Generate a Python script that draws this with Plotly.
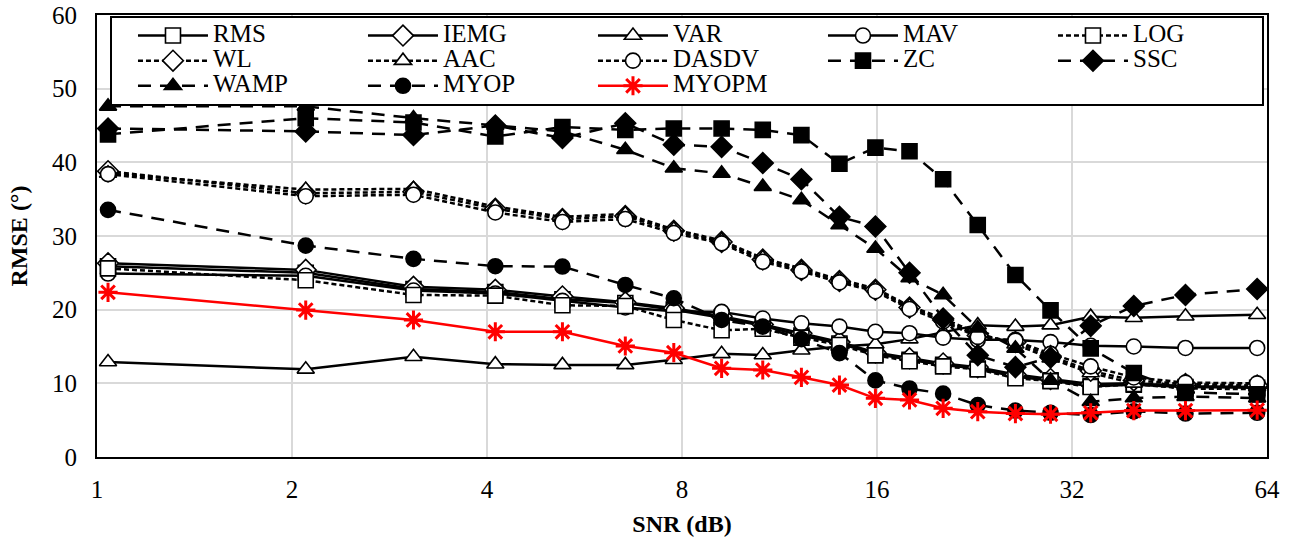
import plotly.graph_objects as go

snr = [1.04, 2.1, 3.08, 4.12, 5.23, 6.54, 7.77, 9.21, 10.66, 12.23, 14.0,
       15.91, 17.96, 20.24, 22.89, 26.17, 29.65, 34.2, 39.86, 47.9, 61.8]

rms   = [25.9, 25.0, 22.8, 22.4, 21.4, 20.9, 20.0, 18.9, 17.8, 16.5, 15.4,
         14.0, 13.2, 12.5, 12.0, 10.9, 10.4, 9.6, 9.8, 9.5, 9.4]
iemg  = [26.3, 25.4, 23.1, 22.7, 21.8, 21.0, 20.2, 19.1, 18.0, 16.8, 15.6,
         14.2, 13.4, 12.7, 12.2, 11.2, 10.6, 9.9, 10.0, 9.6, 9.5]
var   = [12.9, 11.9, 13.6, 12.6, 12.5, 12.5, 13.2, 14.0, 13.85, 14.5, 15.0,
         15.3, 16.0, 16.9, 17.9, 17.7, 17.9, 19.05, 18.9, 19.1, 19.3]
mav   = [24.9, 24.6, 22.6, 22.2, 21.2, 20.3, 19.8, 19.7, 18.8, 18.15, 17.7,
         17.0, 16.8, 16.2, 15.9, 15.9, 15.6, 15.1, 15.0, 14.8, 14.8]
log_  = [25.6, 24.0, 22.0, 21.9, 20.6, 20.5, 18.6, 17.2, 17.4, 16.2, 15.2,
         13.8, 13.0, 12.3, 11.9, 10.7, 10.3, 9.5, 9.9, 9.3, 9.2]
wl    = [38.8, 35.8, 36.0, 33.7, 32.3, 32.7, 30.7, 29.2, 26.8, 25.4, 23.9,
         22.7, 20.3, 18.6, 16.5, 15.6, 13.7, 11.7, 10.4, 9.9, 9.7]
aac   = [38.5, 36.3, 36.4, 34.0, 32.6, 33.0, 30.9, 29.4, 27.0, 25.6, 24.1,
         22.9, 20.5, 18.8, 16.8, 15.3, 13.4, 11.4, 10.0, 9.6, 9.5]
dasdv = [38.4, 35.4, 35.6, 33.2, 31.9, 32.3, 30.4, 29.0, 26.5, 25.2, 23.7,
         22.5, 20.1, 18.4, 16.3, 15.8, 14.0, 12.3, 10.8, 10.1, 10.0]
zc    = [43.8, 46.0, 45.4, 43.5, 44.8, 44.4, 44.6, 44.6, 44.4, 43.7, 39.8,
         42.0, 41.5, 37.7, 31.5, 24.7, 19.9, 14.75, 11.4, 8.8, 8.5]
ssc   = [44.6, 44.2, 43.7, 45.0, 43.3, 45.3, 42.4, 42.1, 39.9, 37.7, 32.6,
         31.3, 25.0, 18.8, 13.8, 12.2, 13.5, 17.8, 20.5, 22.0, 22.8]
wamp  = [47.6, 47.6, 46.0, 45.0, 44.2, 41.7, 39.2, 38.5, 36.7, 34.9, 31.5,
         28.3, 24.3, 22.0, 17.5, 14.75, 10.4, 7.5, 8.0, 8.2, 8.0]
myop  = [33.55, 28.7, 26.9, 25.9, 25.85, 23.35, 21.55, 18.6, 17.7, 16.0, 14.1,
         10.4, 9.3, 8.6, 7.05, 6.3, 6.0, 5.7, 6.2, 5.9, 6.0]
myopm = [22.35, 19.95, 18.6, 17.0, 17.0, 15.07, 14.16, 12.04, 11.81, 10.82, 9.77,
         7.96, 7.74, 6.61, 6.15, 5.9, 5.8, 6.0, 6.3, 6.3, 6.35]

x_ticks = [1, 2, 4, 8, 16, 32, 64]

FONT = "Liberation Serif"
SHORT = "5px,3px"
LONG = "13px,9px"
LEG_TXT = '<span style="font-size:25px">{}</span>'

series = [
    ("RMS", rms, "solid", "square", "white"),
    ("IEMG", iemg, "solid", "diamond", "white"),
    ("VAR", var, "solid", "triangle-up", "white"),
    ("MAV", mav, "solid", "circle", "white"),
    ("LOG", log_, SHORT, "square", "white"),
    ("WL", wl, SHORT, "diamond", "white"),
    ("AAC", aac, SHORT, "triangle-up", "white"),
    ("DASDV", dasdv, SHORT, "circle", "white"),
    ("ZC", zc, LONG, "square", "black"),
    ("SSC", ssc, LONG, "diamond", "black"),
    ("WAMP", wamp, LONG, "triangle-up", "black"),
    ("MYOP", myop, LONG, "circle", "black"),
]

fig = go.Figure()
for name, vals, dash, sym, fill in series:
    fig.add_trace(go.Scatter(
        x=snr, y=vals, name=LEG_TXT.format(name), mode="lines+markers",
        line=dict(color="black", width=2.5, dash=dash),
        marker=dict(symbol=sym, size=15 if sym != "diamond" else 16,
                    color=fill, line=dict(color="black", width=1.6)),
    ))

fig.add_trace(go.Scatter(
    x=snr, y=myopm, name=LEG_TXT.format("MYOPM"), mode="lines+markers",
    line=dict(color="#ff0000", width=2.5),
    marker=dict(symbol="asterisk-open", size=16,
                line=dict(color="#ff0000", width=3)),
))

fig.update_layout(
    width=1295, height=542,
    margin=dict(l=97, r=28, t=15, b=85),
    paper_bgcolor="white", plot_bgcolor="white",
    font=dict(family=FONT, size=25, color="black"),
    showlegend=True,
    legend=dict(
        orientation="h", x=0.0111, y=0.9977, xanchor="left", yanchor="top",
        bgcolor="white", bordercolor="black", borderwidth=2,
        font=dict(family=FONT, size=17, color="black"),
        entrywidth=124, entrywidthmode="pixels",
        itemwidth=70, indentation=21,
    ),
    xaxis=dict(
        type="log", range=[0, 1.80618], tickvals=x_ticks,
        ticktext=[str(v) for v in x_ticks],
        showgrid=True, gridcolor="#d9d9d9", gridwidth=2,
        showline=True, linecolor="black", linewidth=2, mirror=True,
        ticks="", ticklabelstandoff=9, zeroline=False, automargin=False,
        ticklabeloverflow="allow",
        tickfont=dict(family=FONT, size=25),
        title=dict(text="<b>SNR (dB)</b>", font=dict(family=FONT, size=24), standoff=13),
    ),
    yaxis=dict(
        range=[0, 60], dtick=10,
        showgrid=True, gridcolor="#d9d9d9", gridwidth=2,
        showline=True, linecolor="black", linewidth=2, mirror=True,
        ticks="", ticklabelstandoff=13, zeroline=False, automargin=False,
        ticklabeloverflow="allow",
        tickfont=dict(family=FONT, size=25),
        title=dict(text="<b>RMSE (°)</b>", font=dict(family=FONT, size=24), standoff=18),
    ),
)

fig.write_html("out.html", post_script="document.body.style.margin='0';",
               config={"displayModeBar": False})
